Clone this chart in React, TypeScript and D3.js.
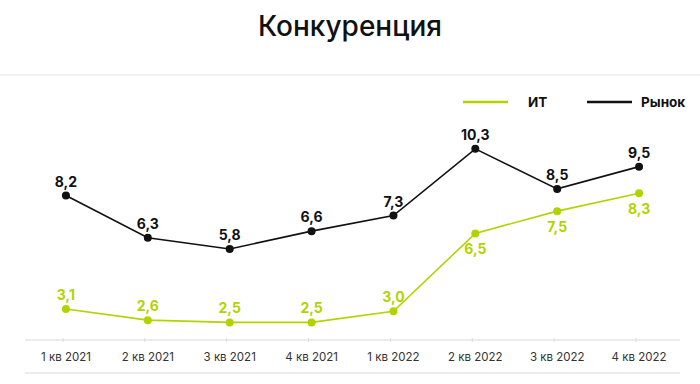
import React, { useEffect, useRef } from "react";
import * as d3 from "d3";

const quarters = [
  "1 кв 2021",
  "2 кв 2021",
  "3 кв 2021",
  "4 кв 2021",
  "1 кв 2022",
  "2 кв 2022",
  "3 кв 2022",
  "4 кв 2022",
];
const itValues = [3.1, 2.6, 2.5, 2.5, 3.0, 6.5, 7.5, 8.3];
const marketValues = [8.2, 6.3, 5.8, 6.6, 7.3, 10.3, 8.5, 9.5];
const itLabelBelow = [false, false, false, false, false, true, true, true];

const GREEN = "#b3d300";
const BLACK = "#111111";
const FONT = "Inter, 'Open Sans', sans-serif";

const fmt = (v: number) => v.toFixed(1).replace(".", ",");

const App = () => {
  const ref = useRef<SVGSVGElement>(null);

  useEffect(() => {
    const svg = d3.select(ref.current);
    svg.selectAll("*").remove();

    const width = 700;

    // title and divider
    svg
      .append("text")
      .attr("x", width / 2)
      .attr("y", 36)
      .attr("text-anchor", "middle")
      .attr("font-family", FONT)
      .attr("font-size", 28)
      .attr("font-weight", 500)
      .attr("fill", "#111")
      .text("Конкуренция");

    svg
      .append("rect")
      .attr("x", 0)
      .attr("y", 74)
      .attr("width", width)
      .attr("height", 2)
      .attr("fill", "#f1f1f1");

    // scales
    const x = d3.scaleBand<string>().domain(quarters).range([25, 680]);
    const y = d3.scaleLinear().domain([0, 12]).range([378, 111]);
    const cx = (d: string) => (x(d) ?? 0) + x.bandwidth() / 2;

    // axis lines
    [340, 373].forEach((yy) => {
      svg
        .append("line")
        .attr("x1", 25)
        .attr("x2", 680)
        .attr("y1", yy)
        .attr("y2", yy)
        .attr("stroke", "#ececec")
        .attr("stroke-width", 2);
    });

    const axis = svg.append("g");
    axis
      .selectAll("line")
      .data(quarters)
      .join("line")
      .attr("x1", (d) => cx(d) - 3)
      .attr("x2", (d) => cx(d) - 3)
      .attr("y1", 338)
      .attr("y2", 342)
      .attr("stroke", "#dcdcdc");
    axis
      .selectAll("text")
      .data(quarters)
      .join("text")
      .attr("x", (d) => cx(d))
      .attr("y", 361)
      .attr("text-anchor", "middle")
      .attr("font-family", FONT)
      .attr("font-size", 11.5)
      .attr("fill", "#333")
      .text((d) => d);

    const line = d3
      .line<number>()
      .x((_, i) => cx(quarters[i]))
      .y((d) => y(d));

    const series = [
      { values: marketValues, color: BLACK, below: marketValues.map(() => false) },
      { values: itValues, color: GREEN, below: itLabelBelow },
    ];

    series.forEach((s) => {
      const g = svg.append("g");
      g.append("path")
        .attr("d", line(s.values))
        .attr("fill", "none")
        .attr("stroke", s.color)
        .attr("stroke-width", 1.6);
      g.selectAll("circle")
        .data(s.values)
        .join("circle")
        .attr("cx", (_, i) => cx(quarters[i]))
        .attr("cy", (d) => y(d))
        .attr("r", 4)
        .attr("fill", s.color);
      g.selectAll("text")
        .data(s.values)
        .join("text")
        .attr("x", (_, i) => cx(quarters[i]))
        .attr("y", (d, i) => (s.below[i] ? y(d) + 21 : y(d) - 9))
        .attr("text-anchor", "middle")
        .attr("font-family", FONT)
        .attr("font-size", 14)
        .attr("font-weight", 700)
        .attr("fill", s.color)
        .text((d) => fmt(d));
    });

    // legend
    const legend = [
      { name: "ИТ", color: GREEN, x: 463, tx: 528 },
      { name: "Рынок", color: BLACK, x: 587, tx: 641 },
    ];
    const lg = svg.append("g");
    legend.forEach((l) => {
      lg.append("line")
        .attr("x1", l.x)
        .attr("x2", l.x + 45)
        .attr("y1", 102)
        .attr("y2", 102)
        .attr("stroke", l.color)
        .attr("stroke-width", 2.5);
      lg.append("text")
        .attr("x", l.tx)
        .attr("y", 107)
        .attr("font-family", FONT)
        .attr("font-size", 13.5)
        .attr("font-weight", 700)
        .attr("fill", "#111")
        .text(l.name);
    });
  }, []);

  return (
    <svg
      ref={ref}
      width={700}
      height={384}
      viewBox="0 0 700 384"
      style={{ position: "absolute", left: 0, top: 0, background: "#fff" }}
    />
  );
};

export default App;
